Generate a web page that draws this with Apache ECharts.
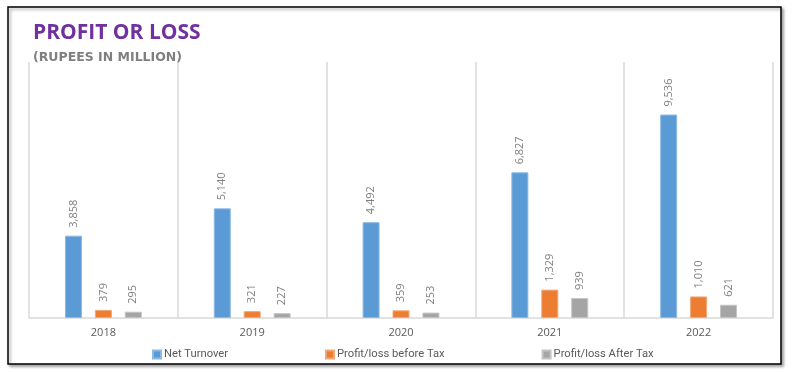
<!DOCTYPE html>
<html><head><meta charset="utf-8">
<script src="https://cdn.jsdelivr.net/npm/echarts@6/dist/echarts.min.js"></script>
<style>html,body{margin:0;padding:0;background:#fff}#c{width:793px;height:373px}</style>
</head><body><div id="c"></div>
<script>
const categories = ['2018','2019','2020','2021','2022'];
const netTurnover = [3858, 5140, 4492, 6827, 9536];
const profitBeforeTax = [379, 321, 359, 1329, 1010];
const profitAfterTax = [295, 227, 253, 939, 621];
const seriesNames = ['Net Turnover','Profit/loss before Tax','Profit/loss After Tax'];
const colors = ['#5B9BD5','#ED7D31','#A5A5A5'];
const edgeColors = ['#8DB9E4','#F3A676','#C4C4C4'];

const chart = echarts.init(document.getElementById('c'), null, {renderer:'canvas'});
const fmt = p => Number(p.value).toLocaleString('en-US');
function mk(i, data){
  return {
    name: seriesNames[i], type:'bar', data: data,
    barWidth: 17, barGap: '76%',
    itemStyle: {color: colors[i], borderColor: edgeColors[i], borderWidth: 1},
    label: {show:true, position:'top', rotate:90, align:'left', verticalAlign:'middle',
      distance:8, color:'#7F7F7F', fontSize:11, fontFamily:'Open Sans', formatter: fmt}
  };
}
chart.setOption({
  animation:false,
  textStyle:{fontFamily:'Open Sans'},
  graphic:[{type:'rect', shape:{x:8,y:7,width:773,height:357}, z:-10,
    style:{fill:'#fff', stroke:'#000', lineWidth:1.5, shadowColor:'rgba(0,0,0,0.35)', shadowBlur:3, shadowOffsetX:2, shadowOffsetY:2}}],
  title:{text:'PROFIT OR LOSS', subtext:'(RUPEES IN MILLION)', left:28, top:18, itemGap:7,
    textStyle:{color:'#7030A0', fontSize:21, fontWeight:'bold', fontFamily:'Open Sans'},
    subtextStyle:{color:'#7F7F7F', fontSize:12.5, fontWeight:'bold', fontFamily:'DejaVu Sans'}},
  legend:{bottom:8, left:147, itemWidth:8, itemHeight:8, itemGap:97, icon:'rect',
    textStyle:{color:'#595959', fontSize:11.2, fontFamily:'Roboto', padding:[0,0,0,-2]}},
  grid:{left:29, right:20, top:62, bottom:55, containLabel:false},
  xAxis:{type:'category', data:categories,
    axisLine:{lineStyle:{color:'#D9D9D9', width:1.5}}, axisTick:{show:false},
    splitLine:{show:true, lineStyle:{color:'#D9D9D9', width:1.5}},
    axisLabel:{color:'#595959', fontSize:11, margin:9, fontFamily:'Open Sans'}},
  yAxis:{type:'value', min:0, max:12000, show:false, splitLine:{show:false}},
  series:[mk(0, netTurnover), mk(1, profitBeforeTax), mk(2, profitAfterTax)]
});
</script></body></html>
